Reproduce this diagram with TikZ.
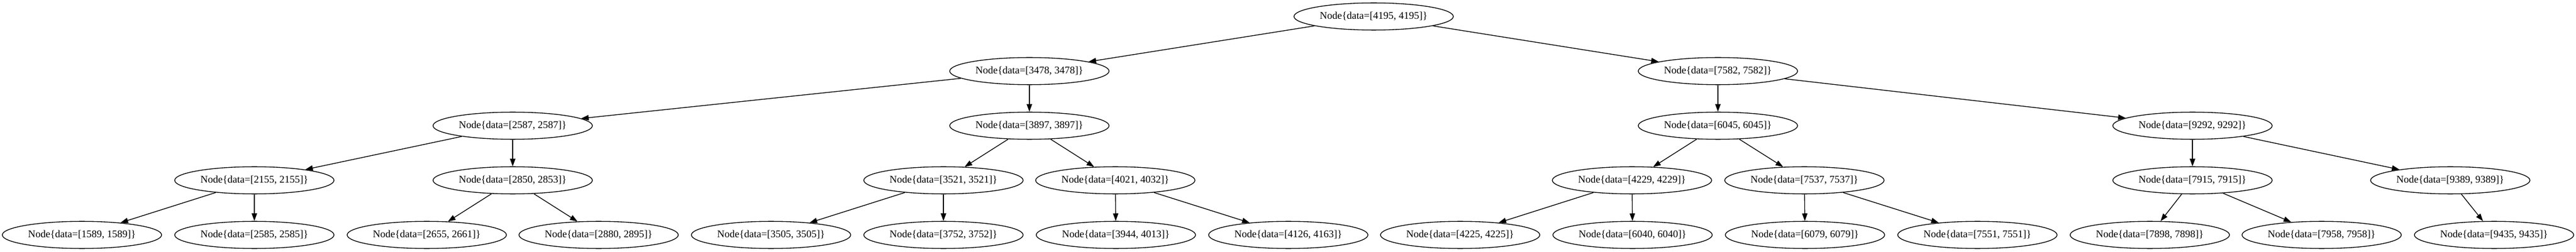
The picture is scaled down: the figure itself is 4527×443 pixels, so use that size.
\documentclass[tikz,border=0pt]{standalone}
\usepackage{fontspec}
\setmainfont{Liberation Serif}
\usetikzlibrary{shapes.geometric,arrows.meta}
\begin{document}
\begin{tikzpicture}[x=1pt,y=-1pt,
  treenode/.style={draw=black, line width=1.33pt, ellipse, minimum width=280pt, minimum height=47.7pt, inner sep=0pt,
    font=\fontsize{18}{21}\selectfont},
  edge/.style={draw=black, line width=1.33pt, -{Triangle[length=13.25pt,width=9.3pt]}}
]
\path[use as bounding box, fill=white] (0,0) rectangle (4527,443);
% level 0
\node[treenode] (n4195) at (2414,29) {Node\{data=[4195, 4195]\}};
% level 1
\node[treenode] (n3478) at (1809,125) {Node\{data=[3478, 3478]\}};
\node[treenode] (n7582) at (3019,125) {Node\{data=[7582, 7582]\}};
% level 2
\node[treenode] (n2587) at (901,221) {Node\{data=[2587, 2587]\}};
\node[treenode] (n3897) at (1809,221) {Node\{data=[3897, 3897]\}};
\node[treenode] (n6045) at (3019,221) {Node\{data=[6045, 6045]\}};
\node[treenode] (n9292) at (3853,221) {Node\{data=[9292, 9292]\}};
% level 3
\node[treenode] (n2155) at (447,317) {Node\{data=[2155, 2155]\}};
\node[treenode] (n2850) at (901,317) {Node\{data=[2850, 2853]\}};
\node[treenode] (n3521) at (1658,317) {Node\{data=[3521, 3521]\}};
\node[treenode] (n4021) at (1960,317) {Node\{data=[4021, 4032]\}};
\node[treenode] (n4229) at (2868,317) {Node\{data=[4229, 4229]\}};
\node[treenode] (n7537) at (3171,317) {Node\{data=[7537, 7537]\}};
\node[treenode] (n7915) at (3853,317) {Node\{data=[7915, 7915]\}};
\node[treenode] (n9389) at (4306,317) {Node\{data=[9389, 9389]\}};
% level 4
\node[treenode] (n1589) at (144,413) {Node\{data=[1589, 1589]\}};
\node[treenode] (n2585) at (447,413) {Node\{data=[2585, 2585]\}};
\node[treenode] (n2655) at (750,413) {Node\{data=[2655, 2661]\}};
\node[treenode] (n2880) at (1052,413) {Node\{data=[2880, 2895]\}};
\node[treenode] (n3505) at (1355,413) {Node\{data=[3505, 3505]\}};
\node[treenode] (n3752) at (1658,413) {Node\{data=[3752, 3752]\}};
\node[treenode] (n3944) at (1961,413) {Node\{data=[3944, 4013]\}};
\node[treenode] (n4126) at (2264,413) {Node\{data=[4126, 4163]\}};
\node[treenode] (n4225) at (2566,413) {Node\{data=[4225, 4225]\}};
\node[treenode] (n6040) at (2869,413) {Node\{data=[6040, 6040]\}};
\node[treenode] (n6079) at (3172,413) {Node\{data=[6079, 6079]\}};
\node[treenode] (n7551) at (3475,413) {Node\{data=[7551, 7551]\}};
\node[treenode] (n7898) at (3778,413) {Node\{data=[7898, 7898]\}};
\node[treenode] (n7958) at (4080,413) {Node\{data=[7958, 7958]\}};
\node[treenode] (n9435) at (4383,413) {Node\{data=[9435, 9435]\}};
% edges
\draw[edge] (n4195) -- (n3478);
\draw[edge] (n4195) -- (n7582);
\draw[edge] (n3478) -- (n2587);
\draw[edge] (n3478) -- (n3897);
\draw[edge] (n2587) -- (n2155);
\draw[edge] (n2587) -- (n2850);
\draw[edge] (n2155) -- (n1589);
\draw[edge] (n2155) -- (n2585);
\draw[edge] (n2850) -- (n2655);
\draw[edge] (n2850) -- (n2880);
\draw[edge] (n3897) -- (n3521);
\draw[edge] (n3897) -- (n4021);
\draw[edge] (n3521) -- (n3505);
\draw[edge] (n3521) -- (n3752);
\draw[edge] (n4021) -- (n3944);
\draw[edge] (n4021) -- (n4126);
\draw[edge] (n7582) -- (n6045);
\draw[edge] (n7582) -- (n9292);
\draw[edge] (n6045) -- (n4229);
\draw[edge] (n6045) -- (n7537);
\draw[edge] (n4229) -- (n4225);
\draw[edge] (n4229) -- (n6040);
\draw[edge] (n7537) -- (n6079);
\draw[edge] (n7537) -- (n7551);
\draw[edge] (n9292) -- (n7915);
\draw[edge] (n9292) -- (n9389);
\draw[edge] (n7915) -- (n7898);
\draw[edge] (n7915) -- (n7958);
\draw[edge] (n9389) -- (n9435);
\end{tikzpicture}
\end{document}
